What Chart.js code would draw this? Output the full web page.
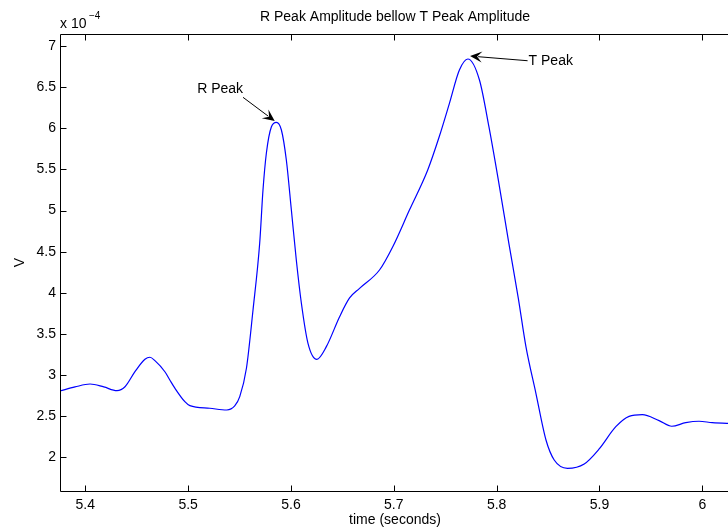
<!DOCTYPE html>
<html>
<head>
<meta charset="utf-8">
<script src="https://cdn.jsdelivr.net/npm/chart.js@4.4.0/dist/chart.umd.min.js"></script>
<style>
  html, body { margin: 0; padding: 0; background: #fff; overflow: hidden; }
  #wrap { width: 728px; height: 529px; }
</style>
</head>
<body>
<div id="wrap"><canvas id="ecgChart" width="728" height="529"></canvas></div>
<script>
// ECG trace, time in seconds, amplitude in units of 1e-4 V
const timeSec = [
  5.3754, 5.390, 5.4046, 5.418, 5.4308, 5.4386, 5.4483, 5.4580, 5.4628, 5.4677,
  5.4774, 5.4822, 5.4871, 5.4968, 5.5017, 5.5211, 5.5376, 5.5453, 5.5502, 5.5567,
  5.5631, 5.5696, 5.5728, 5.5761, 5.5810, 5.5858, 5.5907, 5.5955, 5.6004, 5.6052,
  5.6101, 5.6165, 5.6252, 5.6344, 5.6473, 5.6570, 5.6667, 5.6861, 5.6990, 5.7152,
  5.7330, 5.7444, 5.7541, 5.7638, 5.7720, 5.7833, 5.7925, 5.8022, 5.8119, 5.8211,
  5.8285, 5.8382, 5.8480, 5.8560, 5.8689, 5.8852, 5.8997, 5.9159, 5.9288, 5.9417,
  5.9580, 5.9703, 5.9839, 5.9968, 6.0097, 6.0240, 6.0400
];
const voltsE4 = [
  2.806, 2.855, 2.891, 2.855, 2.810, 2.858, 3.041, 3.191, 3.216, 3.175,
  3.040, 2.940, 2.840, 2.676, 2.628, 2.596, 2.575, 2.624, 2.737, 3.082,
  3.791, 4.605, 5.249, 5.699, 6.019, 6.072, 5.979, 5.614, 5.006, 4.399,
  3.876, 3.389, 3.191, 3.345, 3.709, 3.937, 4.054, 4.277, 4.560, 5.006,
  5.493, 5.906, 6.303, 6.708, 6.842, 6.587, 6.019, 5.331, 4.601, 3.933,
  3.345, 2.778, 2.210, 1.967, 1.866, 1.919, 2.101, 2.372, 2.498, 2.518,
  2.445, 2.377, 2.421, 2.438, 2.421, 2.413, 2.410
];

const xTicks = [5.4, 5.5, 5.6, 5.7, 5.8, 5.9, 6];
const yTicks = [2, 2.5, 3, 3.5, 4, 4.5, 5, 5.5, 6, 6.5, 7];
const xRange = [5.3754, 6.025];
const yRange = [1.59, 7.146];

// peak annotations: label, arrow tail, arrow tip (data coords)
const peakLabels = ["R Peak", "T Peak"];
const peakTails = [[5.5534, 6.376], [5.8301, 6.821]];
const peakTips = [[5.5842, 6.088], [5.7742, 6.878]];

const FONT = "Liberation Sans, Arial, Helvetica, sans-serif";
const axesCenterX = 395; // full axes box runs a little past the window edge

const matlabFrame = {
  id: "matlabFrame",
  afterDraw(chart) {
    const { ctx, chartArea: a, scales: { x, y } } = chart;
    const L = Math.round(a.left) + 0.5, T = Math.round(a.top) + 0.5;
    const R = a.right + 4, B = Math.round(a.bottom) + 0.5;
    ctx.save();
    ctx.strokeStyle = "#000";
    ctx.lineWidth = 1;
    ctx.beginPath();
    // right side of the box is outside the window
    ctx.moveTo(R, T); ctx.lineTo(L, T); ctx.lineTo(L, B); ctx.lineTo(R, B);
    xTicks.forEach(v => {
      const px = Math.round(x.getPixelForValue(v)) + 0.5;
      ctx.moveTo(px, B); ctx.lineTo(px, B - 6);
      ctx.moveTo(px, T); ctx.lineTo(px, T + 6);
    });
    yTicks.forEach(v => {
      const py = Math.round(y.getPixelForValue(v)) + 0.5;
      ctx.moveTo(L, py); ctx.lineTo(L + 6, py);
    });
    ctx.stroke();

    // texts
    ctx.fillStyle = "#000";
    ctx.font = "14px " + FONT;
    ctx.textAlign = "center";
    ctx.textBaseline = "middle";
    ctx.fillText("R Peak Amplitude bellow T Peak Amplitude", axesCenterX, 17);
    ctx.fillText("time (seconds)", axesCenterX, 520);
    ctx.save();
    ctx.translate(20, (a.top + a.bottom) / 2);
    ctx.rotate(-Math.PI / 2);
    ctx.fillText("V", 0, 0);
    ctx.restore();

    // exponent label
    ctx.textAlign = "left";
    ctx.textBaseline = "alphabetic";
    ctx.fillText("x 10", a.left, 28);
    ctx.font = "10px " + FONT;
    ctx.fillText("\u22124", a.left + 29, 19);

    // annotations
    ctx.font = "14px " + FONT;
    peakLabels.forEach((label, i) => {
      const tx = x.getPixelForValue(peakTails[i][0]);
      const ty = y.getPixelForValue(peakTails[i][1]);
      const hx = x.getPixelForValue(peakTips[i][0]);
      const hy = y.getPixelForValue(peakTips[i][1]);
      const ang = Math.atan2(hy - ty, hx - tx);
      ctx.beginPath();
      ctx.moveTo(tx, ty);
      ctx.lineTo(hx - 8 * Math.cos(ang), hy - 8 * Math.sin(ang));
      ctx.stroke();
      // vback2 style head
      const len = 12, half = 5.5;
      const bx = hx - len * Math.cos(ang), by = hy - len * Math.sin(ang);
      const nx = -Math.sin(ang), ny = Math.cos(ang);
      ctx.beginPath();
      ctx.moveTo(hx, hy);
      ctx.lineTo(bx + half * nx, by + half * ny);
      ctx.lineTo(hx - 7 * Math.cos(ang), hy - 7 * Math.sin(ang));
      ctx.lineTo(bx - half * nx, by - half * ny);
      ctx.closePath();
      ctx.fill();
      ctx.textBaseline = "middle";
      if (tx < hx) {
        ctx.textAlign = "right";
        ctx.fillText(label, tx, ty - 8);
      } else {
        ctx.textAlign = "left";
        ctx.fillText(label, tx + 1, ty);
      }
    });
    ctx.restore();
  }
};

const points = timeSec.map((t, i) => ({ x: t, y: voltsE4[i] }));

new Chart(document.getElementById("ecgChart").getContext("2d"), {
  type: "line",
  data: {
    datasets: [{
      data: points,
      borderColor: "#0000ff",
      borderWidth: 1.2,
      pointRadius: 0,
      fill: false,
      cubicInterpolationMode: "monotone"
    }]
  },
  options: {
    responsive: false,
    animation: false,
    layout: { padding: { top: 34, right: 0, left: 0, bottom: 0 } },
    plugins: { legend: { display: false }, tooltip: { enabled: false } },
    scales: {
      x: {
        type: "linear",
        min: xRange[0],
        max: xRange[1],
        grid: { display: false, drawTicks: false },
        border: { display: false },
        afterBuildTicks: s => { s.ticks = xTicks.map(v => ({ value: v })); },
        afterFit: s => { s.height = 38; },
        ticks: {
          color: "#000",
          font: { size: 14, family: FONT },
          padding: 6,
          maxRotation: 0,
          callback: v => String(v)
        }
      },
      y: {
        type: "linear",
        min: yRange[0],
        max: yRange[1],
        grid: { display: false, drawTicks: false },
        border: { display: false },
        afterBuildTicks: s => { s.ticks = yTicks.map(v => ({ value: v })); },
        afterFit: s => { s.width = 60; },
        ticks: {
          color: "#000",
          font: { size: 14, family: FONT },
          padding: 4,
          callback: v => String(v)
        }
      }
    }
  },
  plugins: [matlabFrame]
});
</script>
</body>
</html>
